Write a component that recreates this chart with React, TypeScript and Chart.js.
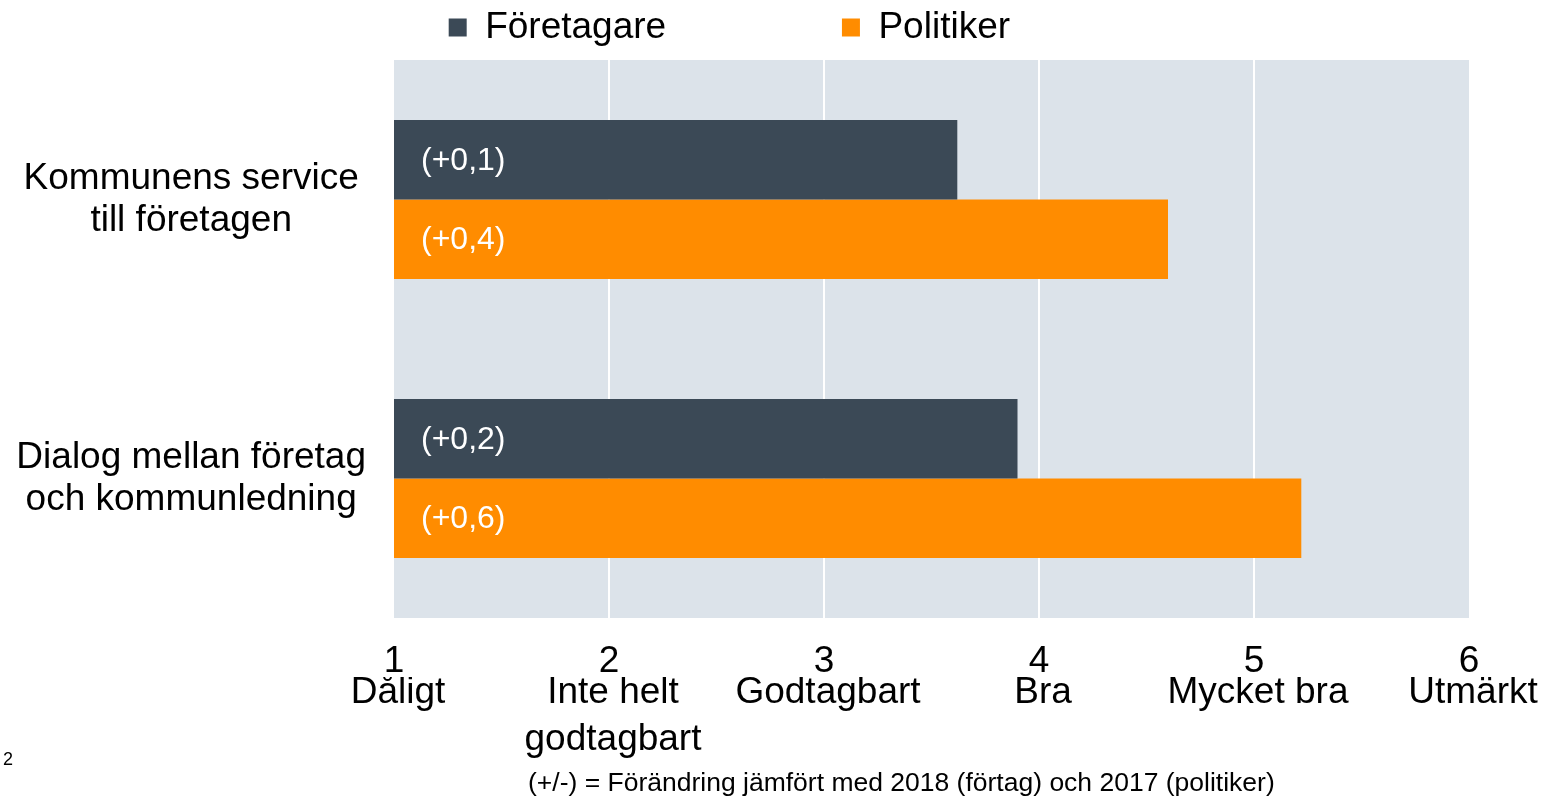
import React, { useEffect, useRef } from "react";
import { Chart, registerables } from "chart.js";

Chart.register(...registerables);

const categories: string[][] = [
  ["Kommunens service", "till företagen"],
  ["Dialog mellan företag", "och kommunledning"],
];
const seriesNames = ["Företagare", "Politiker"];
const foretagareValues = [3.62, 3.9];
const politikerValues = [4.6, 5.22];
const foretagareChange = ["(+0,1)", "(+0,2)"];
const politikerChange = ["(+0,4)", "(+0,6)"];
const scaleNumbers = ["1", "2", "3", "4", "5", "6"];
const scaleWords: (string | string[])[] = [
  "Dåligt",
  ["Inte helt", "godtagbart"],
  "Godtagbart",
  "Bra",
  "Mycket bra",
  "Utmärkt",
];
const footnote = "(+/-) = Förändring jämfört med 2018 (förtag) och 2017 (politiker)";
const pageNumber = "2";

const FONT = "'Liberation Sans', Arial, Helvetica, sans-serif";
const DARK = "#3b4956";
const ORANGE = "#ff8c00";
const PLOT_BG = "#dce3ea";

const plotBackground = {
  id: "plotBackground",
  beforeDraw(chart: any) {
    const { ctx, chartArea } = chart;
    ctx.save();
    ctx.fillStyle = PLOT_BG;
    ctx.fillRect(chartArea.left, chartArea.top, chartArea.right - chartArea.left, chartArea.bottom - chartArea.top);
    ctx.restore();
  },
};

const changeLabels = {
  id: "changeLabels",
  afterDatasetsDraw(chart: any) {
    const { ctx, chartArea } = chart;
    const texts = [foretagareChange, politikerChange];
    ctx.save();
    ctx.fillStyle = "#ffffff";
    ctx.font = `32px ${FONT}`;
    ctx.textAlign = "left";
    ctx.textBaseline = "middle";
    chart.data.datasets.forEach((_ds: any, di: number) => {
      const meta = chart.getDatasetMeta(di);
      meta.data.forEach((bar: any, i: number) => {
        const start = Math.max(bar.base, chartArea.left);
        ctx.fillText(texts[di][i], start + 27, bar.y + 1);
      });
    });
    ctx.restore();
  },
};

const notes = {
  id: "notes",
  afterDraw(chart: any) {
    const { ctx } = chart;
    ctx.save();
    ctx.fillStyle = "#000";
    ctx.textAlign = "left";
    ctx.textBaseline = "alphabetic";
    ctx.font = `26.5px ${FONT}`;
    ctx.fillText(footnote, 528, 791);
    ctx.font = `18px ${FONT}`;
    ctx.fillText(pageNumber, 3, 765);
    ctx.restore();
  },
};

export default function App() {
  const canvasRef = useRef<HTMLCanvasElement | null>(null);

  useEffect(() => {
    if (!canvasRef.current) return;
    const gap = [17, 1];
    const chart = new Chart(canvasRef.current, {
      type: "bar",
      data: {
        labels: categories,
        datasets: [
          {
            label: seriesNames[0],
            data: foretagareValues,
            backgroundColor: DARK,
            xAxisID: "x",
            categoryPercentage: 0.57,
            barPercentage: 1,
          },
          {
            label: seriesNames[1],
            data: politikerValues,
            backgroundColor: ORANGE,
            xAxisID: "x",
            categoryPercentage: 0.57,
            barPercentage: 1,
          },
        ],
      },
      options: {
        indexAxis: "y",
        animation: false,
        responsive: true,
        maintainAspectRatio: false,
        layout: { padding: { top: 8, right: 86, bottom: 34, left: 0 } },
        plugins: {
          tooltip: { enabled: false },
          legend: {
            position: "top",
            labels: {
              color: "#000",
              font: { family: FONT, size: 37 },
              boxWidth: 18,
              boxHeight: 18,
              padding: 1,
              generateLabels(chart: any) {
                const items = Chart.defaults.plugins.legend.labels.generateLabels(chart);
                return items.map((it: any, i: number) => ({
                  ...it,
                  text: it.text + " ".repeat(gap[i] || 0),
                  lineWidth: 0,
                }));
              },
            },
          },
        },
        scales: {
          x: {
            type: "linear",
            axis: "x",
            position: "bottom",
            min: 1,
            max: 6,
            grid: {
              drawTicks: false,
              lineWidth: 2,
              color: (ctx: any) =>
                ctx.tick && (ctx.tick.value === 1 || ctx.tick.value === 6) ? "rgba(0,0,0,0)" : "#ffffff",
            },
            border: { display: false },
            ticks: {
              stepSize: 1,
              autoSkip: false,
              maxRotation: 0,
              padding: 35,
              color: "#000",
              font: { family: FONT, size: 37, lineHeight: 0.5 },
              callback: (v: any) => scaleNumbers[Math.round(Number(v)) - 1] ?? "",
            },
            afterFit: (s: any) => {
              s.height = 59;
            },
          },
          x2: {
            type: "linear",
            axis: "x",
            position: "bottom",
            min: 1,
            max: 6,
            grid: { display: false, drawTicks: false },
            border: { display: false },
            ticks: {
              stepSize: 1,
              autoSkip: false,
              maxRotation: 0,
              padding: -8,
              labelOffset: 4,
              color: "#000",
              font: { family: FONT, size: 37, lineHeight: 1.27 },
              callback: (v: any) => scaleWords[Math.round(Number(v)) - 1] ?? "",
            },
            afterFit: (s: any) => {
              s.height = 86;
            },
          },
          xTop: {
            type: "linear",
            axis: "x",
            position: "top",
            grid: { display: false, drawTicks: false },
            border: { display: false },
            ticks: { display: false },
            afterFit: (s: any) => {
              s.height = 4;
            },
          },
          y: {
            type: "category",
            grid: { display: false, drawTicks: false },
            border: { display: false },
            ticks: {
              crossAlign: "center",
              padding: 28,
              color: "#000",
              font: { family: FONT, size: 37, lineHeight: 1.14 },
            },
            afterFit: (s: any) => {
              s.width = 394;
              s.paddingTop = 0;
              s.paddingBottom = 0;
            },
          },
        },
      } as any,
      plugins: [plotBackground, changeLabels, notes],
    });
    return () => chart.destroy();
  }, []);

  return (
    <>
      <style>{"html, body { margin: 0; padding: 0; }"}</style>
      <div
        style={{
          position: "relative",
          width: 1555,
          height: 797,
          fontFamily: FONT,
        }}
      >
        <canvas ref={canvasRef} />
      </div>
    </>
  );
}
